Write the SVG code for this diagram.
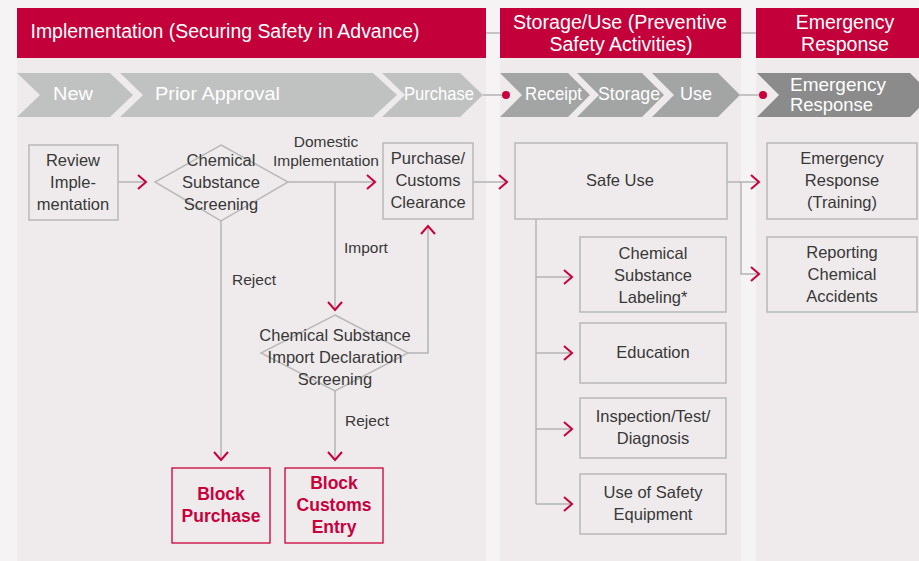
<svg xmlns="http://www.w3.org/2000/svg" width="919" height="561" viewBox="0 0 919 561">
<defs>
<marker id="chev" viewBox="0 0 12 16" refX="10" refY="8" markerWidth="12" markerHeight="16" markerUnits="userSpaceOnUse" orient="auto">
<polyline points="2,1 10,8 2,15" fill="none" stroke="#c8003c" stroke-width="2"/>
</marker>
<style>
.panel{fill:#efebec}
.hdr{fill:#c4003a}
.hdrt{font-family:"Liberation Sans",Arial,sans-serif;font-size:19.5px;fill:#fff;text-anchor:middle}
.c1{fill:#c0c2c1}
.c2{fill:#a3a5a4}
.c3{fill:#8b8b8b}
.ct{font-family:"Liberation Sans",Arial,sans-serif;font-size:19px;fill:#fff}
.box{fill:#efebec;stroke:#b9b9b9;stroke-width:1.5}
.rbox{fill:#efebec;stroke:#c8003c;stroke-width:1.3}
.t{font-family:"Liberation Sans",Arial,sans-serif;font-size:16.5px;fill:#383838;text-anchor:middle}
.rt{font-family:"Liberation Sans",Arial,sans-serif;font-size:17.5px;font-weight:bold;fill:#c8003c;text-anchor:middle}
.lbl{font-family:"Liberation Sans",Arial,sans-serif;font-size:15.5px;fill:#383838}
.ln{fill:none;stroke:#b5b5b5;stroke-width:1.5}
.arr{fill:none;stroke:#b5b5b5;stroke-width:1.5;marker-end:url(#chev)}
.dot{fill:#c8003c}
</style>
</defs>
<rect x="0" y="0" width="919" height="561" fill="#f5f3f4"/>
<g id="panels">
<rect class="panel" x="17" y="58" width="469" height="503"/>
<rect class="panel" x="500" y="58" width="241" height="503"/>
<rect class="panel" x="756" y="58" width="163" height="503"/>
<rect class="hdr" x="17" y="8" width="469" height="50"/>
<rect class="hdr" x="500" y="8" width="241" height="50"/>
<rect class="hdr" x="756" y="8" width="163" height="50"/>
<text class="hdrt" x="225" y="38" textLength="389" lengthAdjust="spacingAndGlyphs">Implementation (Securing Safety in Advance)</text>
<text class="hdrt" x="620" y="29" textLength="214" lengthAdjust="spacingAndGlyphs">Storage/Use (Preventive</text>
<text class="hdrt" x="621" y="51">Safety Activities)</text>
<text class="hdrt" x="845" y="29">Emergency</text>
<text class="hdrt" x="845" y="51">Response</text>
</g>
<g id="stages">
<polygon class="c1" points="17,73 110,73 133,95 110,117 17,117 40,95"/>
<polygon class="c1" points="120,73 373,73 397,95 373,117 120,117 143,95"/>
<polygon class="c1" points="382,73 460,73 483,95 460,117 382,117 405,95"/>
<polygon class="c2" points="500,73 568,73 590,95 568,117 500,117 522,95"/>
<polygon class="c2" points="577,73 642,73 664,95 642,117 577,117 599,95"/>
<polygon class="c2" points="652,73 718,73 740,95 718,117 652,117 674,95"/>
<polygon class="c3" points="757,73 910,73 932,95 910,117 757,117 779,95"/>
<text class="ct" x="53" y="100" textLength="40" lengthAdjust="spacingAndGlyphs">New</text>
<text class="ct" x="155" y="100" textLength="125" lengthAdjust="spacingAndGlyphs">Prior Approval</text>
<text class="ct" x="404" y="100" textLength="70" lengthAdjust="spacingAndGlyphs">Purchase</text>
<text class="ct" x="525" y="100" textLength="57" lengthAdjust="spacingAndGlyphs">Receipt</text>
<text class="ct" x="598" y="100" textLength="62" lengthAdjust="spacingAndGlyphs">Storage</text>
<text class="ct" x="680" y="100" textLength="32" lengthAdjust="spacingAndGlyphs">Use</text>
<text class="ct" x="790" y="91" textLength="96" lengthAdjust="spacingAndGlyphs">Emergency</text>
<text class="ct" x="790" y="111" textLength="83" lengthAdjust="spacingAndGlyphs">Response</text>
</g>
<g id="connectors">
<line class="ln" x1="486" y1="33" x2="500" y2="33"/>
<line class="ln" x1="741" y1="33" x2="756" y2="33"/>
<line class="ln" x1="483" y1="95" x2="506" y2="95"/>
<line class="ln" x1="740" y1="95" x2="763" y2="95"/>
<circle class="dot" cx="506" cy="95" r="4"/>
<circle class="dot" cx="763" cy="95" r="4"/>
<line class="arr" x1="118" y1="182" x2="146" y2="182"/>
<line class="arr" x1="288" y1="182" x2="375" y2="182"/>
<line class="arr" x1="335" y1="182" x2="335" y2="310"/>
<polyline class="arr" points="408,353 428,353 428,226"/>
<line class="arr" x1="221" y1="221" x2="221" y2="460"/>
<line class="arr" x1="335" y1="391" x2="335" y2="460"/>
<line class="arr" x1="473" y1="182" x2="507" y2="182"/>
<line class="ln" x1="536" y1="219" x2="536" y2="504"/>
<line class="arr" x1="536" y1="277" x2="572" y2="277"/>
<line class="arr" x1="536" y1="353" x2="572" y2="353"/>
<line class="arr" x1="536" y1="429" x2="572" y2="429"/>
<line class="arr" x1="536" y1="504" x2="572" y2="504"/>
<line class="arr" x1="727" y1="182" x2="759" y2="182"/>
<polyline class="arr" points="741,182 741,274 759,274"/>
<text class="lbl" x="326" y="147" text-anchor="middle">Domestic</text>
<text class="lbl" x="326" y="166" text-anchor="middle">Implementation</text>
<text class="lbl" x="344" y="253">Import</text>
<text class="lbl" x="232" y="285">Reject</text>
<text class="lbl" x="345" y="426">Reject</text>
</g>
<g id="review">
<rect class="box" x="29" y="145" width="89" height="75"/>
<text class="t" x="73" y="166">Review</text>
<text class="t" x="73" y="188">Imple-</text>
<text class="t" x="73" y="210">mentation</text>
</g>
<g id="screening">
<polygon class="box" points="221,145 288,182 221,221 155,182"/>
<text class="t" x="221" y="166">Chemical</text>
<text class="t" x="221" y="188">Substance</text>
<text class="t" x="221" y="210">Screening</text>
</g>
<g id="purchase">
<rect class="box" x="383" y="143" width="90" height="76"/>
<text class="t" x="428" y="164">Purchase/</text>
<text class="t" x="428" y="186">Customs</text>
<text class="t" x="428" y="208">Clearance</text>
</g>
<g id="import-screening">
<polygon class="box" points="335,315 408,353 335,391 261,353"/>
<text class="t" x="335" y="341">Chemical Substance</text>
<text class="t" x="335" y="363">Import Declaration</text>
<text class="t" x="335" y="385">Screening</text>
</g>
<g id="block-purchase">
<rect class="rbox" x="172" y="468" width="98" height="75"/>
<text class="rt" x="221" y="500">Block</text>
<text class="rt" x="221" y="522">Purchase</text>
</g>
<g id="block-customs">
<rect class="rbox" x="285" y="468" width="98" height="75"/>
<text class="rt" x="334" y="489">Block</text>
<text class="rt" x="334" y="511">Customs</text>
<text class="rt" x="334" y="533">Entry</text>
</g>
<g id="safe-use">
<rect class="box" x="515" y="143" width="212" height="76"/>
<text class="t" x="620" y="186">Safe Use</text>
</g>
<g id="labeling">
<rect class="box" x="580" y="237" width="146" height="75"/>
<text class="t" x="653" y="259">Chemical</text>
<text class="t" x="653" y="281">Substance</text>
<text class="t" x="653" y="303">Labeling*</text>
</g>
<g id="education">
<rect class="box" x="580" y="323" width="146" height="60"/>
<text class="t" x="653" y="358">Education</text>
</g>
<g id="inspection">
<rect class="box" x="580" y="398" width="146" height="60"/>
<text class="t" x="653" y="422">Inspection/Test/</text>
<text class="t" x="653" y="444">Diagnosis</text>
</g>
<g id="equipment">
<rect class="box" x="580" y="474" width="146" height="60"/>
<text class="t" x="653" y="498">Use of Safety</text>
<text class="t" x="653" y="520">Equipment</text>
</g>
<g id="emergency-training">
<rect class="box" x="767" y="143" width="150" height="76"/>
<text class="t" x="842" y="164">Emergency</text>
<text class="t" x="842" y="186">Response</text>
<text class="t" x="842" y="208">(Training)</text>
</g>
<g id="reporting">
<rect class="box" x="767" y="237" width="150" height="75"/>
<text class="t" x="842" y="258">Reporting</text>
<text class="t" x="842" y="280">Chemical</text>
<text class="t" x="842" y="302">Accidents</text>
</g>
</svg>
